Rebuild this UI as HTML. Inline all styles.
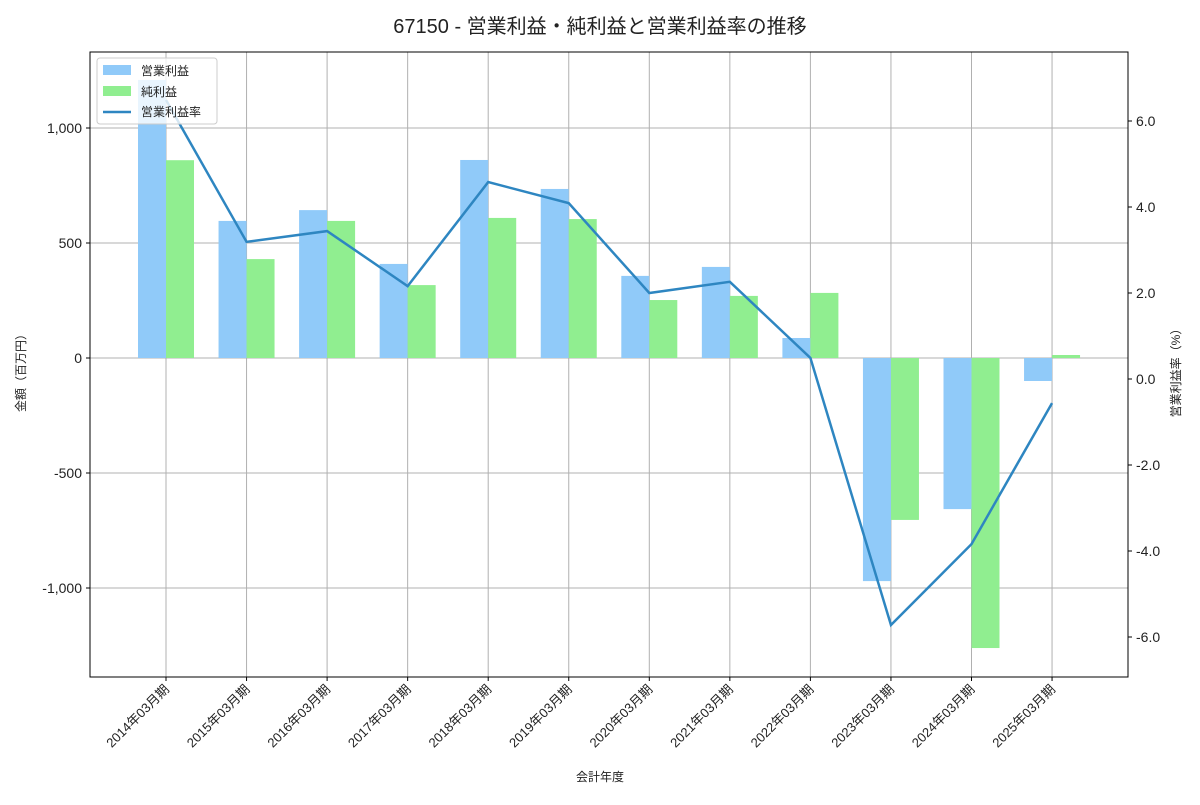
<!DOCTYPE html>
<html><head><meta charset="utf-8"><style>
body{margin:0;background:#fff}
svg text{font-family:"Liberation Sans","Noto Sans CJK JP",sans-serif;fill:#222}
</style></head><body>
<svg id="c" width="1200" height="800" xmlns="http://www.w3.org/2000/svg">
<text x="600" y="33" font-size="20" text-anchor="middle">67150 - 営業利益・純利益と営業利益率の推移</text>
<g id="grid"></g><g id="bars"></g><g id="line"></g><g id="axes"></g>
<rect x="90" y="52" width="1038" height="625" fill="none" stroke="#000" stroke-width="1"/>
<g>
<rect x="97" y="58" width="120" height="66" rx="3" fill="#fff" fill-opacity="0.8" stroke="#ccc"/>
<rect x="103" y="65" width="28" height="10" fill="#90caf9"/>
<text x="141" y="75" font-size="12">営業利益</text>
<rect x="103" y="86" width="28" height="10" fill="#90ee90"/>
<text x="141" y="96" font-size="12">純利益</text>
<line x1="103" y1="112" x2="131" y2="112" stroke="#2e86c1" stroke-width="2.5"/>
<text x="141" y="116" font-size="12">営業利益率</text>
</g>
<text x="600" y="781" font-size="12" text-anchor="middle">会計年度</text>
<text transform="translate(25,370) rotate(-90)" font-size="12" text-anchor="middle">金額（百万円）</text>
<text transform="translate(1180,370) rotate(-90)" font-size="12" text-anchor="middle">営業利益率（%）</text>
</svg>
<script>
const categories=["2014年03月期","2015年03月期","2016年03月期","2017年03月期","2018年03月期","2019年03月期","2020年03月期","2021年03月期","2022年03月期","2023年03月期","2024年03月期","2025年03月期"];
const operatingProfit=[1209,596,643,409,861,735,357,396,87,-970,-657,-100];
const netProfit=[860,430,596,317,609,604,252,270,283,-704,-1261,13];
const operatingMargin=[6.49,3.19,3.44,2.16,4.58,4.09,2.0,2.26,0.49,-5.72,-3.84,-0.56];
const leftTicks=[-1000,-500,0,500,1000];
const leftTickLabels=["-1,000","-500","0","500","1,000"];
const rightTicks=[-6,-4,-2,0,2,4,6];
const rightTickLabels=["-6.0","-4.0","-2.0","0.0","2.0","4.0","6.0"];
const NS="http://www.w3.org/2000/svg";
const x=i=>166+i*80.55;
const y=v=>358-v*0.23;
const y2=v=>379-v*43;
function mk(p,t,a){const e=document.createElementNS(NS,t);for(const k in a)e.setAttribute(k,a[k]);document.getElementById(p).appendChild(e);return e;}
leftTicks.forEach((v,i)=>{
 let g=mk('grid','line',{x1:90,x2:1128,y1:y(v),y2:y(v),stroke:'#b0b0b0','stroke-width':1});
 
 
 let t=mk('axes','text',{x:82,y:y(v)+5,'font-size':14,'text-anchor':'end'});t.textContent=leftTickLabels[i];
 
 
 mk('axes','line',{x1:86,x2:90,y1:y(v),y2:y(v),stroke:'#000'});
});
rightTicks.forEach((v,i)=>{
 let t=mk('axes','text',{x:1136,y:y2(v)+5,'font-size':14});t.textContent=rightTickLabels[i];
 
 
 mk('axes','line',{x1:1128,x2:1132,y1:y2(v),y2:y2(v),stroke:'#000'});
});
categories.forEach((c,i)=>{
 let g=mk('grid','line',{x1:x(i),x2:x(i),y1:52,y2:677,stroke:'#b0b0b0','stroke-width':1});
 
 
 mk('axes','line',{x1:x(i),x2:x(i),y1:677,y2:681,stroke:'#000'});
 let t=mk('axes','text',{'font-size':13,'text-anchor':'end',transform:`translate(${x(i)+4},${690}) rotate(-45)`});t.textContent=c;
 
 
 let o=operatingProfit[i],n=netProfit[i];
 let b1=mk('bars','rect',{x:x(i)-28,width:28,y:Math.min(y(o),y(0)),height:Math.abs(y(o)-y(0)),fill:'#90caf9'});
 
 
 let b2=mk('bars','rect',{x:x(i),width:28,y:Math.min(y(n),y(0)),height:Math.abs(y(n)-y(0)),fill:'#90ee90'});
 
 
});
let l=mk('line','polyline',{points:operatingMargin.map((v,i)=>x(i)+','+y2(v)).join(' '),fill:'none',stroke:'#2e86c1','stroke-width':2.5});


</script>
</body></html>
